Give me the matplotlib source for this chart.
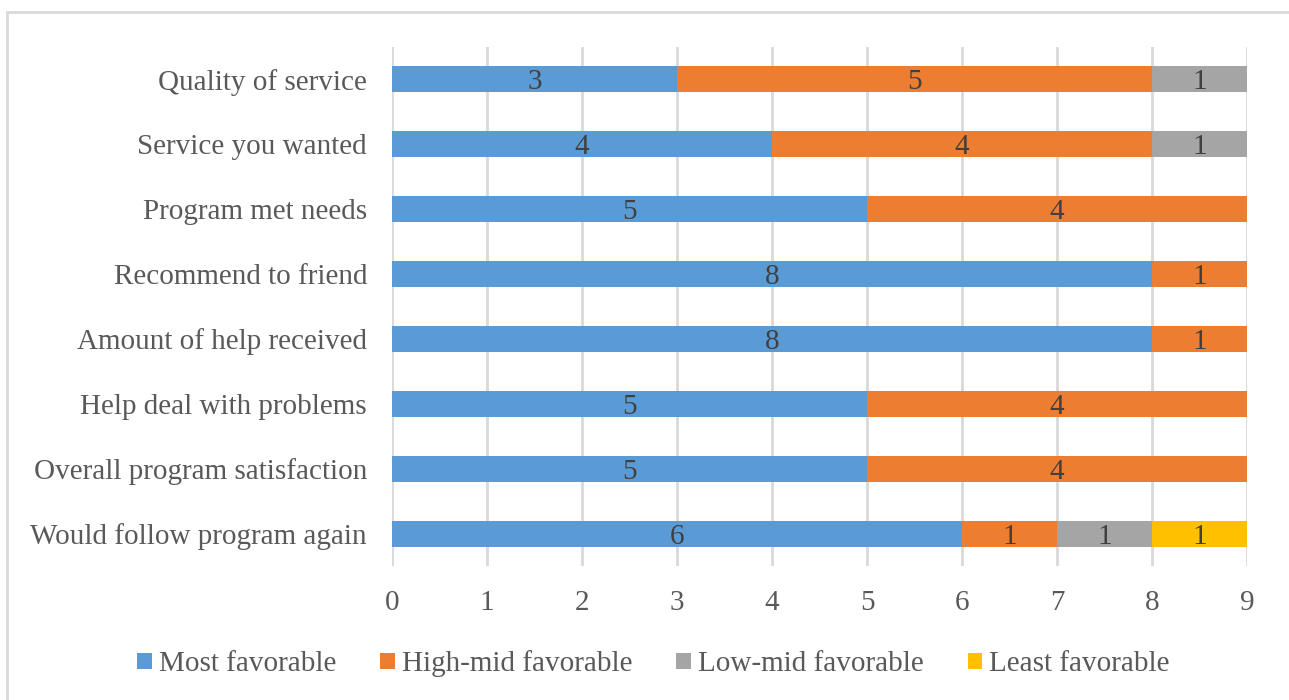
import matplotlib
matplotlib.use("Agg")
import matplotlib.pyplot as plt
import numpy as np
from matplotlib.patches import Rectangle

# Survey items (bottom to top as drawn)
questions = [
    "Would follow program again",
    "Overall program satisfaction",
    "Help deal with problems",
    "Amount of help received",
    "Recommend to friend",
    "Program met needs",
    "Service you wanted",
    "Quality of service",
]
series_names = ["Most favorable", "High-mid favorable", "Low-mid favorable", "Least favorable"]
most_fav = [6, 5, 5, 8, 8, 5, 4, 3]
high_mid = [1, 4, 4, 1, 1, 4, 4, 5]
low_mid = [1, 0, 0, 0, 0, 0, 1, 1]
least_fav = [1, 0, 0, 0, 0, 0, 0, 0]
x_ticks = [0, 1, 2, 3, 4, 5, 6, 7, 8, 9]

colors = ["#5B9BD5", "#ED7D31", "#A5A5A5", "#FFC000"]
text_gray = "#595959"
label_gray = "#404040"
grid_gray = "#D9D9D9"

plt.rcParams["font.family"] = ["Liberation Serif", "DejaVu Serif"]

fig = plt.figure(figsize=(12.89, 7.0), dpi=100)
ax = fig.add_axes([392 / 1289, 134 / 700, (1247 - 392) / 1289, (566 - 47) / 700])

# Outer chart frame
fig.add_artist(Rectangle((7 / 1289, -0.05), 1.2, (700 - 12) / 700 + 0.05,
                         transform=fig.transFigure, fill=False,
                         edgecolor=grid_gray, linewidth=2))

y = np.arange(len(questions))
left = np.zeros(len(questions))
for name, vals, col in zip(series_names, [most_fav, high_mid, low_mid, least_fav], colors):
    vals = np.array(vals, dtype=float)
    bars = ax.barh(y, vals, left=left, height=0.4, color=col, label=name, zorder=3)
    for b, v in zip(bars, vals):
        if v > 0:
            ax.text(b.get_x() + b.get_width() / 2, b.get_y() + b.get_height() / 2,
                    f"{int(v)}", ha="center", va="center_baseline", fontsize=21,
                    color=label_gray, zorder=4)
    left += vals

ax.set_xlim(0, 9)
ax.set_ylim(-0.5, len(questions) - 0.5)
ax.set_xticks(x_ticks)
ax.set_yticks(y)
ax.set_yticklabels(questions)
ax.tick_params(axis="both", length=0, labelsize=21, labelcolor=text_gray)
ax.tick_params(axis="y", pad=18)
ax.tick_params(axis="x", pad=17)
ax.grid(axis="x", color=grid_gray, linewidth=2, zorder=0)
for s in ax.spines.values():
    s.set_visible(False)

fig.legend(loc="center", bbox_to_anchor=(0.507, 36 / 700), ncol=4, frameon=False,
           fontsize=21, labelcolor=text_gray, handlelength=0.5, handleheight=0.5,
           handletextpad=0.25, columnspacing=1.5)

fig.savefig("out.png", dpi=100)
